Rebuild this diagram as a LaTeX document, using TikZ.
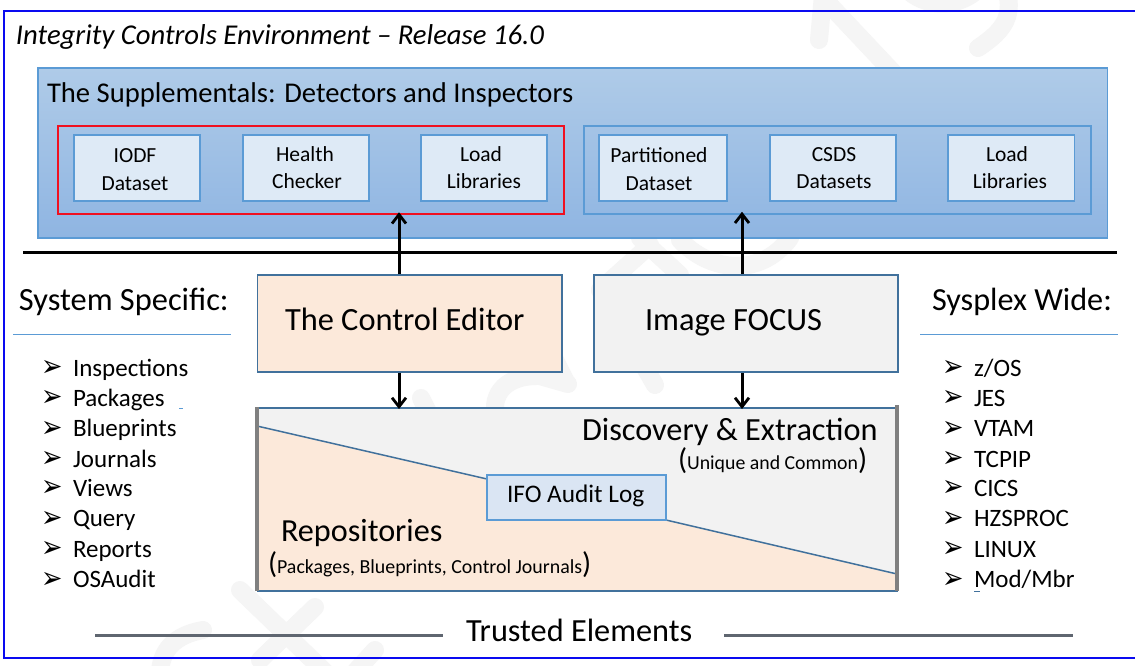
\documentclass[tikz,border=0pt]{standalone}
\usepackage{fontspec}
\setmainfont{Carlito}
\newfontfamily\dv{DejaVu Sans}
\usetikzlibrary{arrows.meta}
\definecolor{frameblue}{HTML}{0A0AF0}
\definecolor{edgeblue}{HTML}{5B9BD5}
\definecolor{darkedge}{HTML}{41719C}
\definecolor{peach}{HTML}{FCE9DA}
\definecolor{pale}{HTML}{F2F2F2}
\definecolor{lightbox}{HTML}{DEEAF6}
\definecolor{ifofill}{HTML}{DAE5F3}
\definecolor{barcol}{HTML}{5F6670}
\definecolor{sidegrey}{HTML}{808080}
\definecolor{wm}{HTML}{F5F5F5}
\definecolor{paneltop}{HTML}{AFCBE8}
\definecolor{panelbot}{HTML}{8FB5E2}
\definecolor{redbox}{HTML}{F01020}
\tikzset{
 lbl/.style={anchor=base west,inner sep=0pt,outer sep=0pt,text=black},
 ctr/.style={anchor=base,inner sep=0pt,outer sep=0pt,text=black},
 boxtext/.style={ctr,font=\fontsize{21.5}{21.5}\selectfont},
 ibox/.style={draw=edgeblue,line width=1.5pt,fill=lightbox,minimum height=66pt,inner sep=0pt},
 grp/.style={line width=1.5pt,minimum height=88pt,inner sep=0pt},
 big/.style={draw=darkedge,line width=1.6pt,minimum width=304.5pt,minimum height=97pt,inner sep=0pt},
 arr/.style={draw=black,line width=3pt,-{Straight Barb[length=9pt,width=14pt,line width=2.8pt]}},
 rulel/.style={draw=edgeblue,line width=1.4pt},
 bar/.style={draw=barcol,line width=3.5pt},
 litem/.style={lbl,font=\fontsize{25}{25}\selectfont},
 bulit/.style={lbl,font=\dv\fontsize{27}{27}\selectfont},
 wmark/.style={draw=wm,line width=18pt,line cap=round,line join=round},
}
\newcommand{\bigp}[1]{{\fontsize{30}{30}\selectfont #1}}
\newcommand{\bulg}{\scalebox{0.95}[1.12]{➢}}
\begin{document}
\begin{tikzpicture}[x=1pt,y=-1pt]
\useasboundingbox (0,0) rectangle (1135,666);
\fill[white] (0,0) rectangle (1135,666);
% watermark strokes
\draw[wmark] (823,-5) -- (819,40);
\draw[wmark] (825,0) -- (905,85);
\draw[wmark] (978,48) .. controls (1005,30) and (1015,15) .. (1005,-15);
\draw[wmark] (905,-12) .. controls (925,8) and (955,8) .. (975,-8);
\draw[wmark] (640,238) -- (680,275);
\draw[wmark] (600,290) -- (650,245);
\draw[wmark] (600,290) -- (655,385);
\draw[wmark] (680,240) .. controls (710,272) and (760,278) .. (790,238);
\draw[wmark] (540,330) -- (566,382);
\draw[wmark] (421,398) -- (428,412);
\draw[wmark] (568,384) -- (540,376) .. controls (500,375) and (490,400) .. (497,420);
\draw[wmark] (240,590) -- (325,672);
\draw[wmark] (315,607) -- (260,660);
\draw[wmark] (375,650) -- (355,672);
\draw[wmark] (203,630) .. controls (175,635) and (160,650) .. (160,675);
% frame
\draw[frameblue,line width=2pt] (1145,11) -- (3.6,11) -- (3.6,658) -- (1145,658);
\coordinate (a1x) at (399,0);
\coordinate (a2x) at (742,0);
\node[lbl,font=\itshape\fontsize{28.7}{28.7}\selectfont] (title) at (16,44.5) {Integrity Controls Environment – Release 16.0};
% supplementals
\node[draw=edgeblue,line width=1.5pt,top color=paneltop,bottom color=panelbot,minimum width=1069.5pt,minimum height=170pt,inner sep=0pt] (panel) at (572.5,153) {};
\node[lbl,font=\fontsize{28.6}{28.6}\selectfont] (supp) at (47,102.5) {The Supplementals: Detectors and Inspectors};
\node[grp,draw=redbox,minimum width=506pt] (red) at (311,170) {};
\node[grp,draw=edgeblue,minimum width=507pt] (grpr) at (837.5,170) {};
\node[ibox,minimum width=126pt] (b1) at (137,168) {};
\node[ibox,minimum width=126pt] (b2) at (306,168) {};
\node[ibox,minimum width=126pt] (b3) at (484,168) {};
\node[ibox,minimum width=128pt] (b4) at (663,168) {};
\node[ibox,minimum width=126pt] (b5) at (833,168) {};
\node[ibox,minimum width=126.5pt] (b6) at (1011.2,168) {};
\node[boxtext] (t1a) at (135,163) {IODF};
\node[boxtext] (t1b) at (135,190) {Dataset};
\node[boxtext] (t2a) at (305,161.5) {Health};
\node[boxtext] (t2b) at (307,188.5) {Checker};
\node[boxtext] (t3a) at (481,161.5) {Load};
\node[boxtext] (t3b) at (484,188.5) {Libraries};
\node[boxtext] (t4a) at (659,163) {Partitioned};
\node[boxtext] (t4b) at (659,190) {Dataset};
\node[boxtext] (t5a) at (834,161.5) {CSDS};
\node[boxtext] (t5b) at (834,188.5) {Datasets};
\node[boxtext] (t6a) at (1007,161.5) {Load};
\node[boxtext] (t6b) at (1010,188.5) {Libraries};
% divider
\coordinate (divl) at (23,252.7);
\coordinate (divr) at (1117,252.7);
\draw[black,line width=3.2pt] (divl) -- (divr);
% editors
\node[big,fill=peach] (ce) at (409.75,323.5) {};
\node[big,fill=pale] (imf) at (746,323.5) {};
\node[lbl,font=\fontsize{32.4}{32.4}\selectfont] (cet) at (285,330.5) {The Control Editor};
\node[lbl,font=\fontsize{32.4}{32.4}\selectfont] (imt) at (645,330.5) {Image FOCUS};
% lower box
\coordinate (lbnw) at (257,408);
\coordinate (lbne) at (897,408);
\coordinate (lbse) at (897,591);
\coordinate (lbsw) at (257,591);
\coordinate (dl) at (257,426);
\coordinate (dm1) at (487,479);
\coordinate (dm2) at (666,520);
\coordinate (dr) at (897,574);
\fill[pale] (lbnw) -- (lbne) -- (lbse) -- (lbsw) -- cycle;
\fill[peach] (dl) -- (dm1) -- (dm2) -- (dr) -- (lbse) -- (lbsw) -- cycle;
\draw[darkedge,line width=1.5pt] (dl) -- (dm1);
\draw[darkedge,line width=1.5pt] (dm2) -- (dr);
\draw[darkedge,line width=1.5pt] (lbnw) -- (lbne);
\draw[darkedge,line width=1.5pt] (lbsw) -- (898,591);
\draw[sidegrey,line width=3.4pt] (256.8,407) -- (256.8,591);
\draw[sidegrey,line width=3.4pt] (897,405) -- (lbse);
\node[draw=edgeblue,line width=1.5pt,fill=ifofill,minimum width=179pt,minimum height=45pt,inner sep=0pt] (ifo) at (576.5,497.5) {};
\node[lbl,font=\fontsize{25.3}{25.3}\selectfont] (ifot) at (507,502) {IFO Audit Log};
\node[lbl,font=\fontsize{32.3}{32.3}\selectfont] (disc) at (582,440) {Discovery \& Extraction};
\node[lbl,font=\fontsize{19.8}{19.8}\selectfont] (uniq) at (678,469) {\bigp{(}Unique and Common\bigp{)}};
\node[lbl,font=\fontsize{32.2}{32.2}\selectfont] (repo) at (281,541) {Repositories};
\node[lbl,font=\fontsize{19.9}{19.9}\selectfont] (pkg) at (268,573) {\bigp{(}Packages, Blueprints, Control Journals\bigp{)}};
% arrows
\draw[arr] (a1x |- ce.north) -- ([yshift=2.5pt]a1x |- red.south);
\draw[arr] (a2x |- imf.north) -- ([yshift=3pt]a2x |- grpr.south);
\draw[arr] (a1x |- ce.south) -- ([yshift=-1pt]a1x |- lbnw);
\draw[arr] (a2x |- imf.south) -- ([yshift=-1pt]a2x |- lbnw);
% side headings
\node[lbl,font=\fontsize{32.4}{32.4}\selectfont] (sys) at (19,310.5) {System Specific:};
\node[lbl,font=\fontsize{32.2}{32.2}\selectfont] (spx) at (932,310.5) {Sysplex Wide:};
\coordinate (r1a) at (13,334.7); \coordinate (r1b) at (230.5,334.7);
\coordinate (r2a) at (920,334.7); \coordinate (r2b) at (1118,334.7);
\draw[rulel] (r1a) -- (r1b);
\draw[rulel] (r2a) -- (r2b);
% left list
\node[bulit] (lb1) at (41.5,376.5) {\bulg}; \node[litem] (l1) at (73,376) {Inspections};
\node[bulit] (lb2) at (41.5,406.5) {\bulg}; \node[litem] (l2) at (73,406) {Packages};
\node[bulit] (lb3) at (41.5,437.5) {\bulg}; \node[litem] (l3) at (73,436.5) {Blueprints};
\node[bulit] (lb4) at (41.5,467.5) {\bulg}; \node[litem] (l4) at (73,467) {Journals};
\node[bulit] (lb5) at (41.5,496.5) {\bulg}; \node[litem] (l5) at (73,496) {Views};
\node[bulit] (lb6) at (41.5,527.5) {\bulg}; \node[litem] (l6) at (73,526.5) {Query};
\node[bulit] (lb7) at (41.5,557.5) {\bulg}; \node[litem] (l7) at (73,557) {Reports};
\node[bulit] (lb8) at (41.5,588.5) {\bulg}; \node[litem] (l8) at (73,587.5) {OSAudit};
\draw[edgeblue,line width=1pt] (179,408.3) -- (183,408.3);
% right list
\node[bulit] (rb1) at (942.5,376.5) {\bulg}; \node[litem] (r1) at (974,376) {z/OS};
\node[bulit] (rb2) at (942.5,406.5) {\bulg}; \node[litem] (r2) at (974,406) {JES};
\node[bulit] (rb3) at (942.5,437.5) {\bulg}; \node[litem] (r3) at (974,436.5) {VTAM};
\node[bulit] (rb4) at (942.5,467.5) {\bulg}; \node[litem] (r4) at (974,467) {TCPIP};
\node[bulit] (rb5) at (942.5,496.5) {\bulg}; \node[litem] (r5) at (974,496) {CICS};
\node[bulit] (rb6) at (942.5,527.5) {\bulg}; \node[litem] (r6) at (974,526.5) {HZSPROC};
\node[bulit] (rb7) at (942.5,557.5) {\bulg}; \node[litem] (r7) at (974,557) {LINUX};
\node[bulit] (rb8) at (942.5,588.5) {\bulg}; \node[litem] (r8) at (974,587.5) {Mod/Mbr};
\draw[darkedge,line width=1pt] (974,591) -- (980,591);
% trusted
\node[lbl,font=\fontsize{32.3}{32.3}\selectfont] (trust) at (466,641) {Trusted Elements};
\coordinate (tl1) at (95,635.7); \coordinate (tl2) at (443,635.7);
\coordinate (tr1) at (724,635.7); \coordinate (tr2) at (1073,635.7);
\draw[bar] (tl1) -- (tl2);
\draw[bar] (tr1) -- (tr2);
\end{tikzpicture}
\end{document}
